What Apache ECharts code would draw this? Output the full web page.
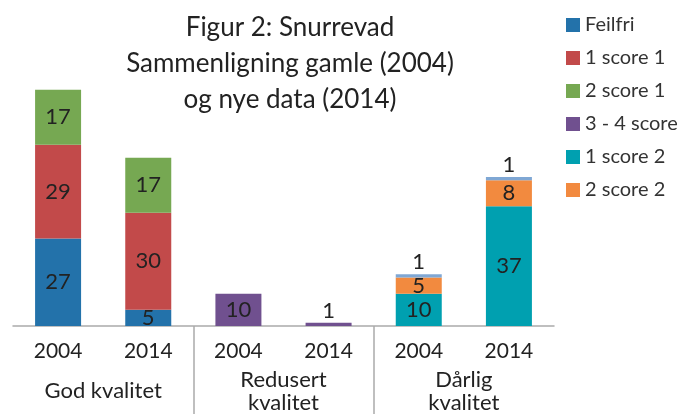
<!DOCTYPE html>
<html lang="no">
<head>
<meta charset="UTF-8">
<title>Figur 2: Snurrevad</title>
<script src="https://cdn.jsdelivr.net/npm/echarts@6/dist/echarts.min.js"></script>
<style>
  html, body { margin: 0; padding: 0; background: #fff; }
  #chart { width: 690px; height: 414px; }
</style>
</head>
<body>
<div id="chart"></div>
<script>
  // år innenfor hver gruppe
  var years = ['2004', '2014', '2004', '2014', '2004', '2014'];
  var groups = ['God kvalitet', 'Redusert\nkvalitet', 'Dårlig\nkvalitet'];

  var feilfri     = [27, 5, null, null, null, null];
  var score1_1    = [29, 30, null, null, null, null];
  var score2_1    = [17, 17, null, null, null, null];
  var score3_4    = [null, null, 10, 1, null, null];
  var score1_2    = [null, null, null, null, 10, 37];
  var score2_2    = [null, null, null, null, 5, 8];
  var annet       = [null, null, null, null, 1, 1];

  var font = 'Lato, "Open Sans", sans-serif';

  function lbl(pos) {
    return {
      show: true,
      position: pos || 'inside',
      color: '#222',
      fontSize: 22,
      fontFamily: font,
      distance: 1
    };
  }

  function bar(name, data, color, pos) {
    return {
      name: name,
      type: 'bar',
      stack: 'total',
      data: data,
      barWidth: 46,
      itemStyle: { color: color },
      label: lbl(pos)
    };
  }

  // 3 - 4 score: etiketten for den lave stolpen står over
  var score3_4Data = score3_4.map(function (v, i) {
    if (i === 3) return { value: v, label: lbl('top') };
    return v;
  });

  var chart = echarts.init(document.getElementById('chart'));
  chart.setOption({
    animation: false,
    title: {
      text: 'Figur 2: Snurrevad\nSammenligning gamle (2004)\nog nye data (2014)',
      left: 285,
      top: 5,
      textAlign: 'center',
      textStyle: {
        fontFamily: font,
        fontSize: 26,
        fontWeight: 'normal',
        color: '#222',
        lineHeight: 36
      }
    },
    legend: {
      data: ['Feilfri', '1 score 1', '2 score 1', '3 - 4 score', '1 score 2', '2 score 2'],
      orient: 'vertical',
      left: 561,
      top: 10,
      icon: 'rect',
      itemWidth: 14,
      itemHeight: 14,
      itemGap: 13,
      textStyle: { fontFamily: font, fontSize: 20, color: '#333' }
    },
    grid: { left: 13, right: 136, top: 67, bottom: 87 },
    xAxis: [
      {
        type: 'category',
        data: years,
        axisLine: { lineStyle: { color: '#aaa', width: 1.5 } },
        axisTick: { show: false },
        axisLabel: { fontFamily: font, fontSize: 21, color: '#222', margin: 15 }
      },
      {
        type: 'category',
        data: groups,
        position: 'bottom',
        axisLine: { show: false },
        axisTick: { show: false },
        axisLabel: {
          fontFamily: font, fontSize: 22, color: '#222',
          margin: 65, verticalAlign: 'middle', lineHeight: 23
        }
      },
      {
        type: 'category',
        data: ['', '', '', ''],
        boundaryGap: false,
        position: 'bottom',
        axisLine: { show: false },
        axisLabel: { show: false },
        axisTick: {
          show: true,
          length: 90,
          interval: function (i) { return i === 1 || i === 2; },
          lineStyle: { color: '#aaa', width: 1.5 }
        }
      }
    ],
    yAxis: { type: 'value', min: 0, max: 80, show: false },
    series: [
      bar('Feilfri', feilfri, '#2372aa'),
      bar('1 score 1', score1_1, '#c24a4a'),
      bar('2 score 1', score2_1, '#76a852'),
      {
        name: '3 - 4 score',
        type: 'bar',
        stack: 'total',
        data: score3_4Data,
        barWidth: 46,
        itemStyle: { color: '#70508f' },
        label: lbl('inside')
      },
      bar('1 score 2', score1_2, '#00a0b0'),
      bar('2 score 2', score2_2, '#f28a3f'),
      bar('annet', annet, '#7fa7d4', 'top')
    ]
  });
</script>
</body>
</html>
